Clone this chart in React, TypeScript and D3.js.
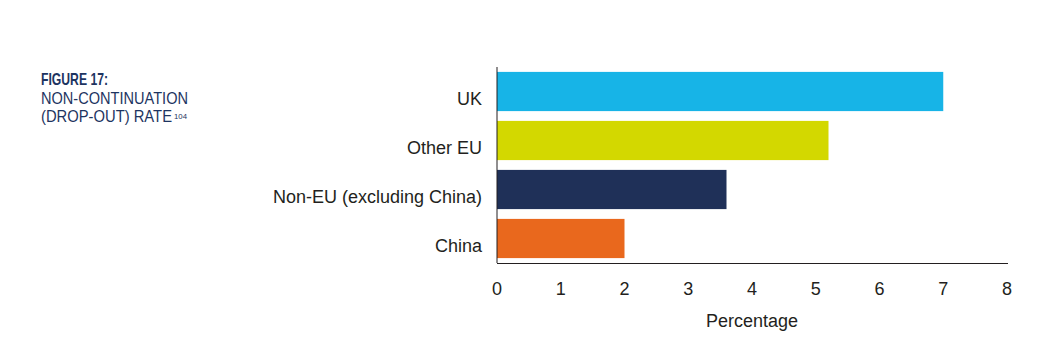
import * as d3 from "d3";
import React, { useEffect, useRef } from "react";

const categories = ["UK", "Other EU", "Non-EU (excluding China)", "China"];
const values = [7.0, 5.2, 3.6, 2.0];
const barColors = ["#17b4e7", "#d3d800", "#1f3058", "#e9681d"];
const xTicks = [0, 1, 2, 3, 4, 5, 6, 7, 8];

const FONT = "'Liberation Sans', Arial, sans-serif";

const App: React.FC = () => {
  const ref = useRef<SVGSVGElement | null>(null);

  useEffect(() => {
    if (!ref.current) return;
    const svg = d3.select(ref.current);
    svg.selectAll("*").remove();

    const width = 1059;
    const height = 353;
    const left = 497;
    const right = 1007;
    const top = 67;
    const bottom = 263;

    svg.attr("width", width).attr("height", height);

    const x = d3.scaleLinear().domain([0, 8]).range([left, right]);
    const y = d3
      .scaleBand<string>()
      .domain(categories)
      .range([top, bottom])
      .paddingInner(0.2)
      .paddingOuter(0.1);

    // bars
    svg
      .append("g")
      .selectAll("rect")
      .data(categories)
      .join("rect")
      .attr("x", x(0))
      .attr("y", (d) => y(d)!)
      .attr("width", (d, i) => x(values[i]) - x(0))
      .attr("height", y.bandwidth())
      .attr("fill", (d, i) => barColors[i]);

    // category labels
    svg
      .append("g")
      .selectAll("text")
      .data(categories)
      .join("text")
      .attr("x", 482)
      .attr("y", (d) => y(d)! + y.bandwidth() / 2 + 13)
      .attr("text-anchor", "end")
      .attr("font-family", FONT)
      .attr("font-size", 18)
      .attr("fill", "#231f20")
      .text((d) => d);

    // axis lines
    svg
      .append("line")
      .attr("x1", left)
      .attr("x2", left)
      .attr("y1", top)
      .attr("y2", bottom)
      .attr("stroke", "#231f20")
      .attr("stroke-width", 1);
    svg
      .append("line")
      .attr("x1", left)
      .attr("x2", right + 1)
      .attr("y1", bottom + 0.5)
      .attr("y2", bottom + 0.5)
      .attr("stroke", "#231f20")
      .attr("stroke-width", 1);

    // tick labels
    svg
      .append("g")
      .selectAll("text")
      .data(xTicks)
      .join("text")
      .attr("x", (d) => x(d))
      .attr("y", 295)
      .attr("text-anchor", "middle")
      .attr("font-family", FONT)
      .attr("font-size", 18)
      .attr("fill", "#231f20")
      .text((d) => String(d));

    svg
      .append("text")
      .attr("x", (left + right) / 2)
      .attr("y", 327)
      .attr("text-anchor", "middle")
      .attr("font-family", FONT)
      .attr("font-size", 18)
      .attr("fill", "#231f20")
      .text("Percentage");

    // figure title (condensed typeface, squeezed with textLength)
    const title = svg
      .append("g")
      .attr("font-family", FONT)
      .attr("fill", "#1d3461");
    title
      .append("text")
      .attr("x", 41)
      .attr("y", 85)
      .attr("font-size", 17)
      .attr("font-weight", "bold")
      .attr("textLength", 67)
      .attr("lengthAdjust", "spacingAndGlyphs")
      .text("FIGURE 17:");
    title
      .append("text")
      .attr("x", 41)
      .attr("y", 104)
      .attr("font-size", 17)
      .attr("textLength", 147)
      .attr("lengthAdjust", "spacingAndGlyphs")
      .text("NON-CONTINUATION");
    title
      .append("text")
      .attr("x", 41)
      .attr("y", 122)
      .attr("font-size", 17)
      .attr("textLength", 131)
      .attr("lengthAdjust", "spacingAndGlyphs")
      .text("(DROP-OUT) RATE");
    title
      .append("text")
      .attr("x", 174)
      .attr("y", 119)
      .attr("font-size", 8)
      .attr("textLength", 13)
      .attr("lengthAdjust", "spacingAndGlyphs")
      .text("104");
  }, []);

  return (
    <svg
      ref={ref}
      style={{ position: "absolute", left: 0, top: 0, display: "block" }}
    ></svg>
  );
};

export default App;
